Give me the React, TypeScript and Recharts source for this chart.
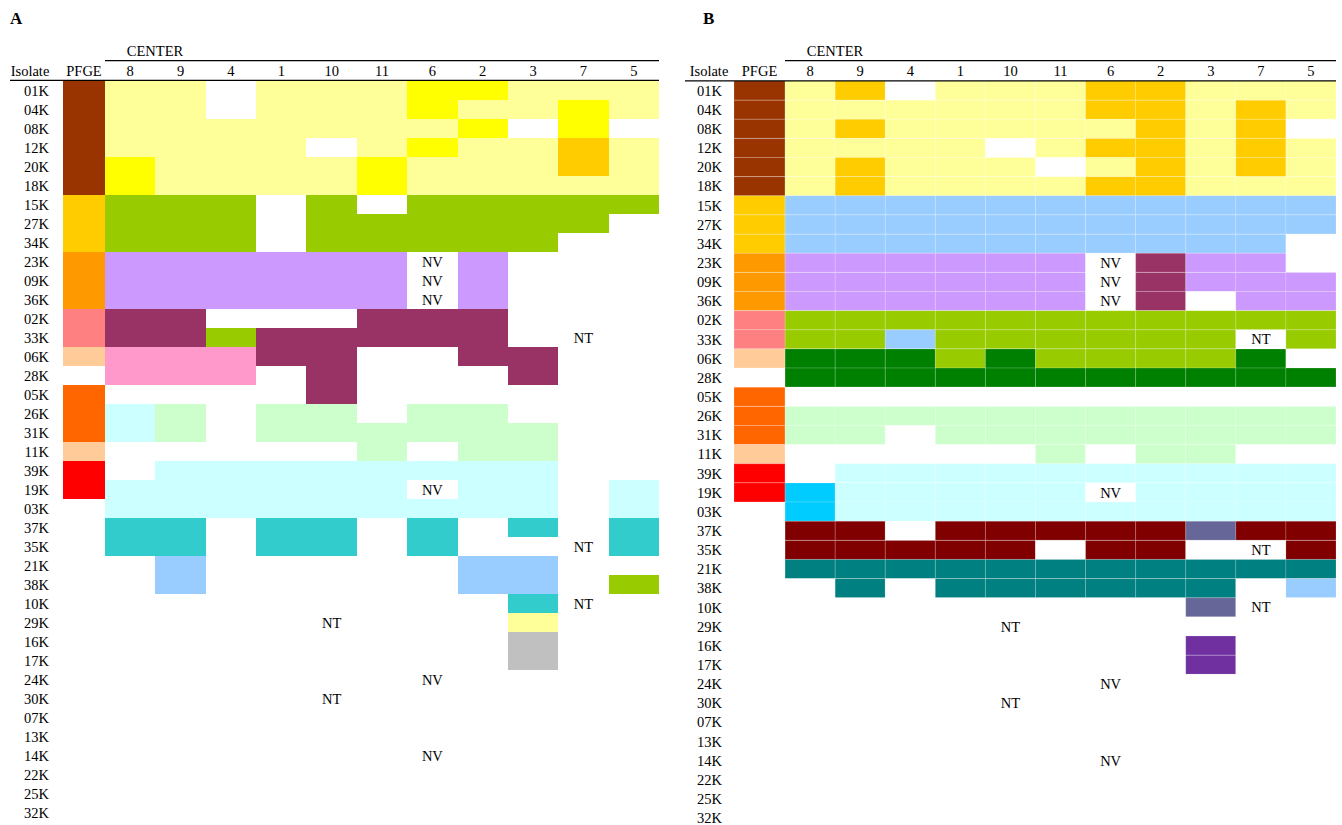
import React from "react";
import { BarChart, Bar, XAxis, YAxis, Cell, LabelList } from "recharts";

const FONT = '"Liberation Serif", "Times New Roman", serif';
const FS = 14.5;

const ISOLATES = [
  "01K", "04K", "08K", "12K", "20K", "18K", "15K", "27K", "34K", "23K",
  "09K", "36K", "02K", "33K", "06K", "28K", "05K", "26K", "31K", "11K",
  "39K", "19K", "03K", "37K", "35K", "21K", "38K", "10K", "29K", "16K",
  "17K", "24K", "30K", "07K", "13K", "14K", "22K", "25K", "32K",
];
const CENTERS = ["8", "9", "4", "1", "10", "11", "6", "2", "3", "7", "5"];

const COLORS: Record<string, string> = {
  "..": "#ffffff",
  ly: "#ffff99",
  ye: "#ffff00",
  go: "#ffcc00",
  yg: "#99cc00",
  lv: "#cc99ff",
  pl: "#993366",
  pk: "#ff99cc",
  lc: "#ccffff",
  lg: "#ccffcc",
  tq: "#33cccc",
  lb: "#99ccff",
  gr: "#c0c0c0",
  dg: "#008000",
  sb: "#00ccff",
  dr: "#800000",
  tl: "#008080",
  sl: "#666699",
  pu: "#7030a0",
  br: "#993300",
  or: "#ff9900",
  sa: "#ff8080",
  pe: "#ffcc99",
  oo: "#ff6600",
  rd: "#ff0000",
};

// PFGE type per isolate (same in both panels)
const PFGE = [
  "br", "br", "br", "br", "br", "br", "go", "go", "go", "or",
  "or", "or", "sa", "sa", "pe", "..", "oo", "oo", "oo", "pe",
  "rd", "rd", "..", "..", "..", "..", "..", "..", "..", "..",
  "..", "..", "..", "..", "..", "..", "..", "..", "..",
];

const E = ".. .. .. .. .. .. .. .. .. .. ..";

// centers: 8 9 4 1 10 11 6 2 3 7 5
const PANEL_A = [
  "ly ly .. ly ly ly ye ye ly ly ly",
  "ly ly .. ly ly ly ye ly ly ye ly",
  "ly ly ly ly ly ly ly ye .. ye ..",
  "ly ly ly ly .. ly ye ly ly go ly",
  "ye ly ly ly ly ye ly ly ly go ly",
  "ye ly ly ly ly ye ly ly ly ly ly",
  "yg yg yg .. yg .. yg yg yg yg yg",
  "yg yg yg .. yg yg yg yg yg yg ..",
  "yg yg yg .. yg yg yg yg yg .. ..",
  "lv lv lv lv lv lv .. lv .. .. ..",
  "lv lv lv lv lv lv .. lv .. .. ..",
  "lv lv lv lv lv lv .. lv .. .. ..",
  "pl pl .. .. .. pl pl pl .. .. ..",
  "pl pl yg pl pl pl pl pl .. .. ..",
  "pk pk pk pl pl .. .. pl pl .. ..",
  "pk pk pk .. pl .. .. .. pl .. ..",
  ".. .. .. .. pl .. .. .. .. .. ..",
  "lc lg .. lg lg .. lg lg .. .. ..",
  "lc lg .. lg lg lg lg lg lg .. ..",
  ".. .. .. .. .. lg .. lg lg .. ..",
  ".. lc lc lc lc lc lc lc lc .. ..",
  "lc lc lc lc lc lc .. lc lc .. lc",
  "lc lc lc lc lc lc lc lc lc .. lc",
  "tq tq .. tq tq .. tq .. tq .. tq",
  "tq tq .. tq tq .. tq .. .. .. tq",
  ".. lb .. .. .. .. .. lb lb .. ..",
  ".. lb .. .. .. .. .. lb lb .. yg",
  ".. .. .. .. .. .. .. .. tq .. ..",
  ".. .. .. .. .. .. .. .. ly .. ..",
  ".. .. .. .. .. .. .. .. gr .. ..",
  ".. .. .. .. .. .. .. .. gr .. ..",
  E, E, E, E, E, E, E, E,
];

const PANEL_B = [
  "ly go .. ly ly ly go go ly ly ly",
  "ly ly ly ly ly ly go go ly go ly",
  "ly go ly ly ly ly ly go ly go ..",
  "ly ly ly ly .. ly go go ly go ly",
  "ly go ly ly ly .. ly go ly go ly",
  "ly go ly ly ly ly go go ly ly ly",
  "lb lb lb lb lb lb lb lb lb lb lb",
  "lb lb lb lb lb lb lb lb lb lb lb",
  "lb lb lb lb lb lb lb lb lb lb ..",
  "lv lv lv lv lv lv .. pl lv lv ..",
  "lv lv lv lv lv lv .. pl lv lv lv",
  "lv lv lv lv lv lv .. pl .. lv lv",
  "yg yg yg yg yg yg yg yg yg yg yg",
  "yg yg lb yg yg yg yg yg yg .. yg",
  "dg dg dg yg dg yg yg yg yg dg ..",
  "dg dg dg dg dg dg dg dg dg dg dg",
  E,
  "lg lg lg lg lg lg lg lg lg lg lg",
  "lg lg .. lg lg lg lg lg lg lg lg",
  ".. .. .. .. .. lg .. lg lg .. ..",
  ".. lc lc lc lc lc lc lc lc lc lc",
  "sb lc lc lc lc lc .. lc lc lc lc",
  "sb lc lc lc lc lc lc lc lc lc lc",
  "dr dr .. dr dr dr dr dr sl dr dr",
  "dr dr dr dr dr .. dr dr .. .. dr",
  "tl tl tl tl tl tl tl tl tl tl tl",
  ".. tl .. tl tl tl tl tl tl .. lb",
  ".. .. .. .. .. .. .. .. sl .. ..",
  E,
  ".. .. .. .. .. .. .. .. pu .. ..",
  ".. .. .. .. .. .. .. .. pu .. ..",
  E, E, E, E, E, E, E, E,
];

// NV = not viable, NT = not tested
const NOTES: [string, string, string][] = [
  ["23K", "6", "NV"], ["09K", "6", "NV"], ["36K", "6", "NV"],
  ["33K", "7", "NT"], ["19K", "6", "NV"], ["35K", "7", "NT"],
  ["10K", "7", "NT"], ["29K", "10", "NT"], ["24K", "6", "NV"],
  ["30K", "10", "NT"], ["14K", "6", "NV"],
];

type PanelProps = {
  matrix: string[];
  pfgeW: number;
  left: number;
  width: number;
  height: number;
  yWidth: number;
  tickMargin: number;
  margin: { top: number; right: number; bottom: number; left: number };
  stroke?: string;
};

function buildRows(pfgeW: number) {
  return ISOLATES.map((iso) => {
    const row: Record<string, string | number> = { iso, p: pfgeW };
    CENTERS.forEach((c, j) => {
      row[`c${j}`] = 1;
      const note = NOTES.find((n) => n[0] === iso && n[1] === c);
      if (note) row[`n${j}`] = note[2];
    });
    return row;
  });
}

function Panel({ matrix, pfgeW, left, width, height, yWidth, tickMargin, margin, stroke }: PanelProps) {
  const data = buildRows(pfgeW);
  const cells = matrix.map((r) => r.split(" "));
  const total = pfgeW + CENTERS.length;
  const ticks = [pfgeW / 2, ...CENTERS.map((_, j) => pfgeW + j + 0.5)];
  const headers = ["PFGE", ...CENTERS];
  const crisp = stroke ? undefined : "crispEdges";
  return (
    <div style={{ position: "absolute", left, top: 0 }}>
      <BarChart
        width={width}
        height={height}
        data={data}
        layout="vertical"
        margin={margin}
        barCategoryGap={0}
        barGap={0}
      >
        <XAxis
          type="number"
          orientation="top"
          domain={[0, total]}
          ticks={ticks}
          interval={0}
          allowDataOverflow
          tickFormatter={(_v: number, i: number) => headers[i]}
          axisLine={false}
          tickLine={false}
          tickSize={0}
          tickMargin={5}
          height={20}
          tick={{ fill: "#000", fontSize: FS }}
        />
        <YAxis
          type="category"
          dataKey="iso"
          width={yWidth}
          interval={0}
          axisLine={false}
          tickLine={false}
          tickSize={0}
          tickMargin={tickMargin}
          tick={{ fill: "#000", fontSize: FS }}
        />
        <Bar dataKey="p" stackId="a" isAnimationActive={false} stroke={stroke} strokeWidth={1} shapeRendering={crisp}>
          {PFGE.map((k, i) => (
            <Cell key={i} fill={COLORS[k]} />
          ))}
        </Bar>
        {CENTERS.map((c, j) => (
          <Bar
            key={c}
            dataKey={`c${j}`}
            stackId="a"
            isAnimationActive={false}
            stroke={stroke}
            strokeWidth={1}
            shapeRendering={crisp}
          >
            {cells.map((r, i) => (
              <Cell key={i} fill={COLORS[r[j]]} />
            ))}
            <LabelList dataKey={`n${j}`} position="center" fill="#000" stroke="none" fontSize={FS} />
          </Bar>
        ))}
      </BarChart>
    </div>
  );
}

export default function App() {
  return (
    <div
      style={{
        position: "absolute",
        left: 0,
        top: 0,
        width: 1342,
        height: 825,
        overflow: "hidden",
        background: "#fff",
        fontFamily: FONT,
      }}
    >
      <Panel
        matrix={PANEL_A}
        pfgeW={0.834}
        left={0}
        width={670}
        height={825}
        yWidth={63}
        tickMargin={14}
        margin={{ top: 61, right: 11, bottom: 3, left: 0 }}
      />
      <Panel
        matrix={PANEL_B}
        pfgeW={1.02}
        left={680}
        width={662}
        height={830}
        yWidth={54}
        tickMargin={12}
        margin={{ top: 61, right: 6, bottom: 2.5, left: 0 }}
        stroke="rgba(255,255,255,0.16)"
      />
      <svg
        width={1342}
        height={825}
        style={{ position: "absolute", left: 0, top: 0, pointerEvents: "none" }}
      >
        <g fontFamily={FONT} fontSize={FS} fill="#000">
          <text x={10} y={24} fontSize={17} fontWeight="bold">A</text>
          <text x={703} y={24} fontSize={17} fontWeight="bold">B</text>
          <text x={155} y={56} textAnchor="middle">CENTER</text>
          <text x={835} y={56} textAnchor="middle">CENTER</text>
          <text x={30} y={76} textAnchor="middle">Isolate</text>
          <text x={709} y={76} textAnchor="middle">Isolate</text>
        </g>
        <g stroke="#000" strokeWidth={1.2}>
          <line x1={105} x2={659} y1={60.6} y2={60.6} />
          <line x1={10} x2={659} y1={80.4} y2={80.4} />
          <line x1={785} x2={1336} y1={60.6} y2={60.6} />
          <line x1={685} x2={1336} y1={80.8} y2={80.8} />
        </g>
      </svg>
    </div>
  );
}
